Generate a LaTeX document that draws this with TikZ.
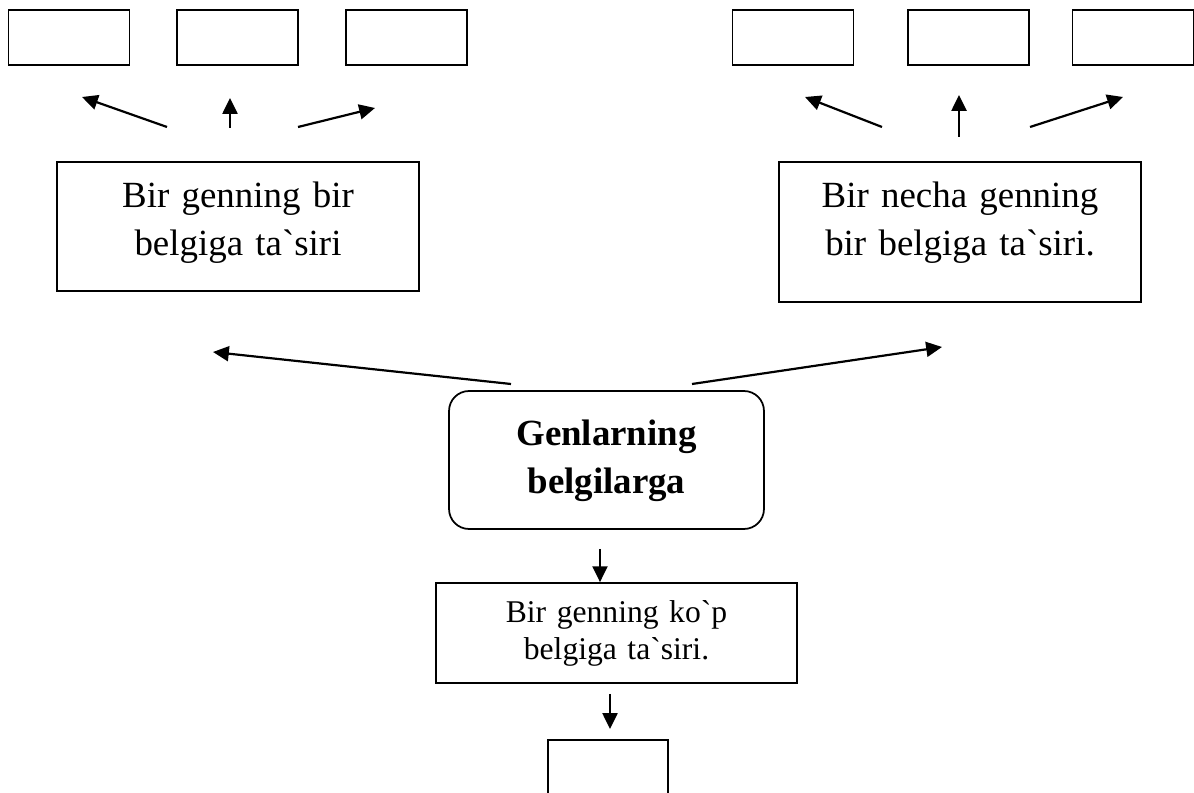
\documentclass[tikz,border=0pt]{standalone}
\usepackage{fontspec}
\setmainfont{Liberation Serif}[Ligatures=TeXOff]
\usetikzlibrary{arrows.meta, calc}

\begin{document}
\begin{tikzpicture}[x = 0.02cm, y = -0.02cm,
		box/.style = {draw, line width = 1pt, inner sep = 0pt, align = center},
		blank/.style = {box, minimum width = 2.42cm, minimum height = 1.1cm},
		arr/.style = {line width = 1.25pt, -{Triangle[length = 9pt, width = 8.5pt]}}]
			\def\txtbig{\fontsize{21pt}{27.3pt}\selectfont}
			\def\txtsmall{\fontsize{18pt}{20.5pt}\selectfont}

			\useasboundingbox (0,0) rectangle (1194,793);
			\clip (0,0) rectangle (1194,793);

			% empty boxes on top
			\node[blank] (b1) at (69,37.5) {};
			\node[blank] (b2) at (237.5,37.5) {};
			\node[blank] (b3) at (406.5,37.5) {};
			\node[blank] (b4) at (793,37.5) {};
			\node[blank] (b5) at (968.5,37.5) {};
			\node[blank] (b6) at (1133,37.5) {};

			% text boxes
			\node[box, minimum width = 7.24cm, minimum height = 2.58cm, text width = 7.24cm,
				font = \txtbig, text height = 15pt, text depth = 37pt] (one)
				at (238,226.5) {Bir genning bir\\ belgiga ta`siri};
			\node[box, minimum width = 7.24cm, minimum height = 2.8cm, text width = 7.24cm,
				font = \txtbig, text height = 15pt, text depth = 43pt] (many)
				at (960,232) {Bir necha genning\\ bir belgiga ta`siri.};
			\node[box, rounded corners = 0.4cm, minimum width = 6.3cm, minimum height = 2.76cm,
				text width = 6.3cm, font = \txtbig\bfseries, text height = 15pt, text depth = 32pt] (gen)
				at (606.5,460) {Genlarning\\ belgilarga};
			\node[box, minimum width = 7.22cm, minimum height = 2cm, text width = 7.22cm,
				font = \txtsmall, text height = 13pt, text depth = 24.4pt] (ko)
				at (616.5,633) {Bir genning ko`p\\ belgiga ta`siri.};
			\node[box, minimum width = 2.4cm, minimum height = 1.6cm, anchor = north] (last)
				at (608,739) {};

			% arrows
			\foreach \n/\sx/\sy/\ex/\ey in {1/167/127/82/97, 2/230/128/230/98, 3/298/127/375/108,
				4/882/127/805/97, 5/959/137/959/95, 6/1030/127/1123/97,
				7/511/384/213/352, 8/692/384/942/347}
			{
				\coordinate (s\n) at (\sx,\sy);
				\coordinate (e\n) at (\ex,\ey);
				\draw[arr] (s\n) -- (e\n);
			}

			\coordinate (d1) at (600,549);
			\draw[arr] (d1) -- (d1 |- ko.north);
			\coordinate (d2) at (610,694);
			\coordinate (d2e) at (610,729);
			\draw[arr] (d2) -- (d2e);
		\end{tikzpicture}
\end{document}
